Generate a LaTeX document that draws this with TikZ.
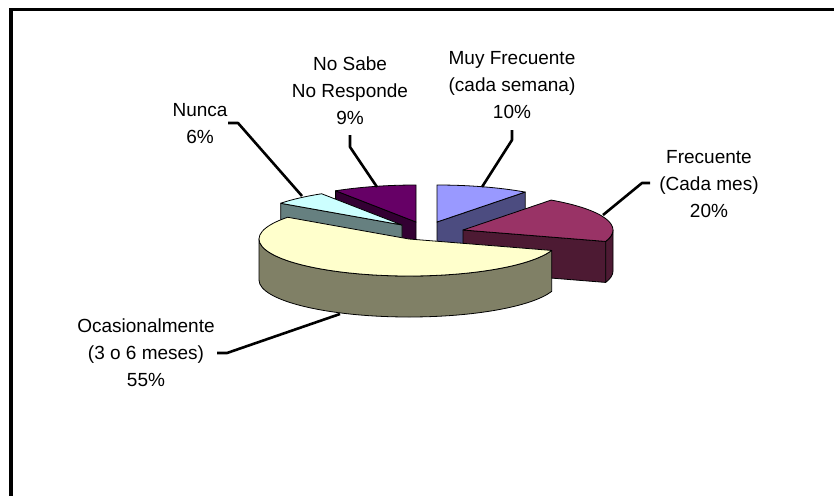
\documentclass[tikz,border=0pt]{standalone}
\usepackage{fontspec}
\setmainfont{Liberation Sans}
\usepackage{tikz}
\usetikzlibrary{positioning}

\definecolor{muytop}{HTML}{9999FF}
\definecolor{muyside}{HTML}{4C4C80}
\definecolor{frtop}{HTML}{993366}
\definecolor{frside}{HTML}{4D1A33}
\definecolor{octop}{HTML}{FFFFCC}
\definecolor{ocside}{HTML}{808066}
\definecolor{nutop}{HTML}{CCFFFF}
\definecolor{nuside}{HTML}{668080}
\definecolor{nstop}{HTML}{660066}
\definecolor{nsside}{HTML}{330033}

\begin{document}
\begin{tikzpicture}[x=1pt,y=-1pt,x radius=150,y radius=37]
        \useasboundingbox (0,0) rectangle (834,495);
        \draw[line width=3.5pt] (11,500) -- (11,9.5) -- (840,9.5);
        % apex of each exploded slice
        \coordinate (ns) at (416,222);
        \coordinate (mu) at (437,222);
        \coordinate (nu) at (402,225);
        \coordinate (fr) at (463,230);
        \coordinate (oc) at (409,239);
        \begin{scope}[every path/.style={draw=black,line width=0.8pt,line join=round}]
          % No Sabe
          \path[fill=nsside] (ns) -- ++(237.6:150 and 37) -- ++(0,41) -- ++(57.6:150 and 37) -- cycle;
          \path[fill=nstop] (ns) -- ++(237.6:150 and 37) arc[start angle=237.6,end angle=270] -- cycle;
          % Muy Frecuente
          \path[fill=muyside] (mu) -- ++(-54:150 and 37) -- ++(0,41) -- ++(126:150 and 37) -- cycle;
          \path[fill=muytop] (mu) -- ++(-90:150 and 37) arc[start angle=-90,end angle=-54] -- cycle;
          % Nunca
          \path[fill=nuside] (nu) -- ++(216:150 and 37) -- ++(0,41) -- ++(36:150 and 37) -- cycle;
          \path[fill=nutop] (nu) -- ++(216:150 and 37) arc[start angle=216,end angle=237.6] -- cycle;
          % Frecuente
          \path[fill=frside] (fr) -- ++(18:150 and 37) -- ++(0,41) -- ++(198:150 and 37) -- cycle;
          \path[fill=frside] (fr) ++(0:150 and 37) arc[start angle=0,end angle=18] -- ++(0,41) arc[start angle=18,end angle=0] -- cycle;
          \path[fill=frtop] (fr) -- ++(-54:150 and 37) arc[start angle=-54,end angle=18] -- cycle;
          % Ocasionalmente
          \path[fill=ocside] (oc) ++(18:150 and 37) arc[start angle=18,end angle=180] -- ++(0,41) arc[start angle=180,end angle=18] -- cycle;
          \path[fill=octop] (oc) -- ++(18:150 and 37) arc[start angle=18,end angle=216] -- cycle;
        \end{scope}
        \begin{scope}[every node/.style={align=center,inner sep=0pt,font=\fontsize{19}{27}\selectfont}]
          \node (nosabe) at (350,90.5) {No Sabe\\No Responde\\9\%};
          \node (muy) at (512,85.5) {Muy Frecuente\\(cada semana)\\10\%};
          \node (nunca) at (200,124) {Nunca\\6\%};
          \node (frec) at (709,184) {Frecuente\\(Cada mes)\\20\%};
          \node (ocas) at (146,353) {Ocasionalmente\\(3 o 6 meses)\\55\%};
        \end{scope}
        % leader lines
        \coordinate (nunca-a) at (228,123);  \coordinate (nunca-b) at (238,123);  \coordinate (nunca-c) at (302,196);
        \coordinate (nosabe-a) at (350,135); \coordinate (nosabe-b) at (350,147); \coordinate (nosabe-c) at (377,187);
        \coordinate (muy-a) at (512,130);    \coordinate (muy-b) at (512,140);    \coordinate (muy-c) at (482,187);
        \coordinate (frec-a) at (650,183);   \coordinate (frec-b) at (642,183);   \coordinate (frec-c) at (603,215);
        \coordinate (ocas-a) at (217,353);   \coordinate (ocas-b) at (227,353);   \coordinate (ocas-c) at (340,314);
        \begin{scope}[every path/.style={draw=black,line width=2.6pt,line join=round}]
          \path (nunca-a) -- (nunca-b) -- (nunca-c);
          \path (nosabe-a) -- (nosabe-b) -- (nosabe-c);
          \path (muy-a) -- (muy-b) -- (muy-c);
          \path (frec-a) -- (frec-b) -- (frec-c);
          \path (ocas-a) -- (ocas-b) -- (ocas-c);
        \end{scope}
      \end{tikzpicture}
\end{document}
